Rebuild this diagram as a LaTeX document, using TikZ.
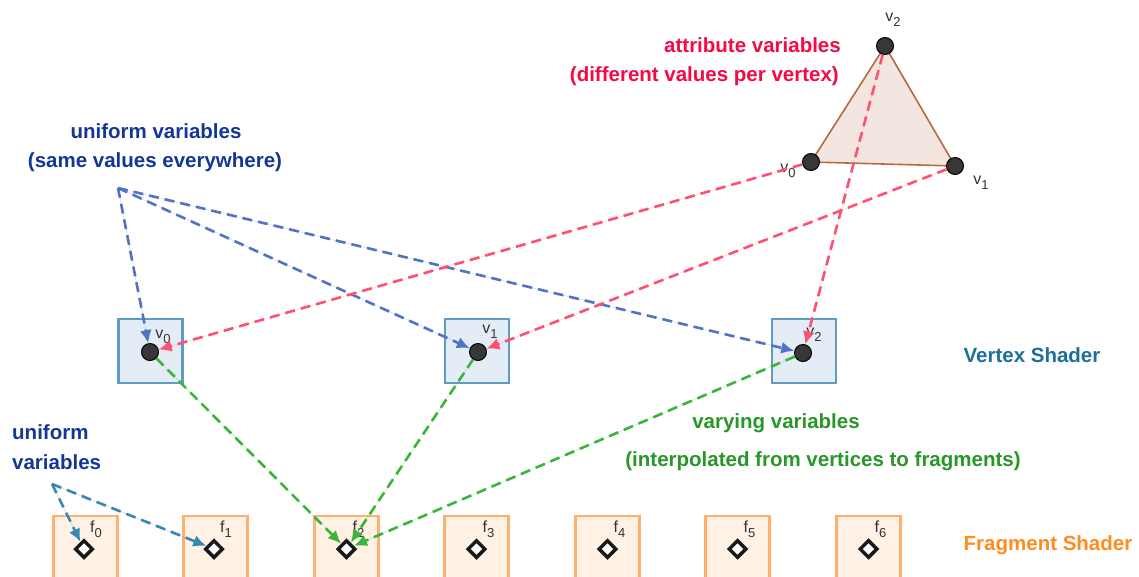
\documentclass[tikz,border=0pt]{standalone}
\usepackage{fontspec}
\setmainfont{Liberation Sans}
\usetikzlibrary{arrows.meta,shapes.geometric}
\definecolor{attrtext}{RGB}{245,10,70}
\definecolor{attrline}{RGB}{255,80,115}
\definecolor{unitext}{RGB}{20,55,150}
\definecolor{uniline}{RGB}{80,115,195}
\definecolor{fragline}{RGB}{55,135,180}
\definecolor{vartext}{RGB}{40,150,40}
\definecolor{varline}{RGB}{60,180,60}
\definecolor{vstext}{RGB}{30,110,155}
\definecolor{vsfill}{RGB}{228,237,245}
\definecolor{vsborder}{RGB}{95,155,195}
\definecolor{fsfill}{RGB}{255,241,228}
\definecolor{fsborder}{RGB}{255,175,110}
\definecolor{fstext}{RGB}{255,140,30}
\definecolor{trifill}{RGB}{243,230,225}
\definecolor{triedge}{RGB}{185,105,65}
\definecolor{dotgray}{RGB}{55,55,55}
\definecolor{lblgray}{RGB}{50,50,50}
\newcommand{\vlbl}[2]{#1\raisebox{-5pt}{\fontsize{13}{14}\selectfont #2}}
\begin{document}
\begin{tikzpicture}[x=1pt,y=-1pt,
  vbox/.style={draw=vsborder,fill=vsfill,line width=2.6pt,minimum size=64pt,inner sep=0pt},
  fbox/.style={draw=fsborder,fill=fsfill,line width=2.6pt,minimum size=64pt,inner sep=0pt},
  vdot/.style={circle,fill=dotgray,draw=black,line width=1pt,minimum size=17pt,inner sep=0pt},
  fdiam/.style={diamond,fill=white,draw=black!90,line width=3.5pt,minimum size=18pt,inner sep=0pt},
  lbl/.style={font=\fontsize{16}{17}\selectfont,text=lblgray,inner sep=0pt},
  big/.style={font=\fontsize{20.5}{22}\selectfont\bfseries,inner sep=0pt},
  dl/.style={line width=2.6pt,dash pattern=on 10pt off 6pt},
  tip/.style={-{Latex[length=13pt,width=12pt]}},
]
\useasboundingbox (0,0) rectangle (1139,576);
\fill[white] (0,0) rectangle (1139,576);

% triangle
\coordinate (tc0) at (811,162);
\coordinate (tc1) at (955,166);
\coordinate (tc2) at (885,46);
\draw[fill=trifill,draw=triedge,line width=1.6pt] (tc0) -- (tc1) -- (tc2) -- cycle;
\node[vdot] (t0) at (tc0) {};
\node[vdot] (t1) at (tc1) {};
\node[vdot] (t2) at (tc2) {};
\node[lbl] at (893,20) {\vlbl{v}{2}};
\node[lbl] at (788,171) {\vlbl{v}{0}};
\node[lbl] at (981,183) {\vlbl{v}{1}};

% vertex shader boxes
\node[vbox] (vb0) at (150.5,351) {};
\node[vbox] (vb1) at (477,351) {};
\node[vbox] (vb2) at (804,351) {};

% fragment boxes
\foreach \i/\x in {0/85.5,1/215.5,2/346.5,3/476.5,4/607.5,5/737.5,6/868.5}{
  \node[fbox] (fb\i) at (\x,548) {};
}

% texts
\node[big,text=attrtext,anchor=east] (attr1) at (841,45) {attribute variables};
\node[big,text=attrtext,anchor=east] (attr2) at (839,76) {(different values per vertex)};
\node[big,text=unitext] (uni1) at (156,131) {uniform variables};
\node[big,text=unitext] (uni2) at (155,162) {(same values everywhere)};
\node[big,text=vstext] (vs) at (1032,355) {Vertex Shader};
\node[big,text=vartext] (var1) at (776,423) {varying variables};
\node[big,text=vartext] (var2) at (823,461) {(interpolated from vertices to fragments)};
\node[big,text=unitext,anchor=west] (fu1) at (12,432) {uniform};
\node[big,text=unitext,anchor=west] (fu2) at (12,462) {variables};
\node[big,text=fstext] (fs) at (1048,545) {Fragment Shader};

% connector origins
\coordinate (u) at (118,188);
\coordinate (fu) at (52,484);

% vertex dots & fragment diamonds
\node[vdot] (d0) at (150,352) {};
\node[vdot] (d1) at (478,352) {};
\node[vdot] (d2) at (803,353) {};
\node[lbl] at (163,337) {\vlbl{v}{0}};
\node[lbl] at (490,332) {\vlbl{v}{1}};
\node[lbl] at (814,335) {\vlbl{v}{2}};
\foreach \i/\x in {0/84,1/214,2/346.5,3/476.5,4/607.5,5/737.5,6/868.5}{
  \node[fdiam] (fd\i) at (\x,549) {};
  \node[lbl] at (\x+12,529) {\vlbl{f}{\i}};
}

% uniform (vertex)
\draw[dl,tip,draw=uniline,fill=uniline] (u) -- (d0);
\draw[dl,tip,draw=uniline,fill=uniline] (u) -- (d1);
\draw[dl,tip,draw=uniline,fill=uniline] (u) -- (d2);
% attributes
\draw[dl,tip,draw=attrline,fill=attrline] (t0) -- (d0);
\draw[dl,tip,draw=attrline,fill=attrline] (t1) -- (d1);
\draw[dl,tip,draw=attrline,fill=attrline] (t2) -- (d2);
% varyings
\draw[dl,tip,draw=varline,fill=varline] (d0) -- (fd2);
\draw[dl,tip,draw=varline,fill=varline] (d1) -- (fd2);
\draw[dl,tip,draw=varline,fill=varline] (d2) -- (fd2);
% uniform (fragment)
\draw[dl,tip,draw=fragline,fill=fragline] (fu) -- (fd0);
\draw[dl,tip,draw=fragline,fill=fragline] (fu) -- (fd1);
\end{tikzpicture}
\end{document}
